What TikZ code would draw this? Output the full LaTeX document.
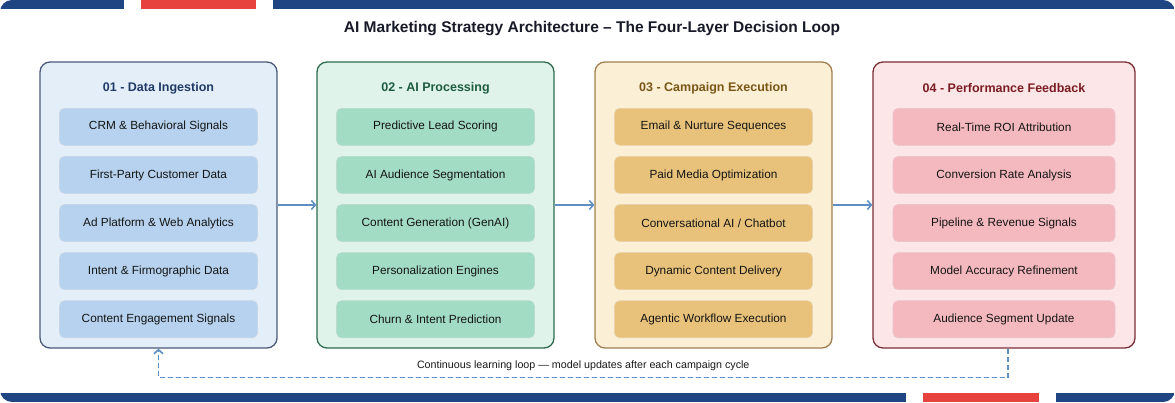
\documentclass[tikz,border=0pt]{standalone}
\usepackage{fontspec}
\setmainfont{Liberation Sans}
\usetikzlibrary{arrows.meta,positioning,calc}
\definecolor{barblue}{RGB}{31,69,130}
\definecolor{barred}{RGB}{232,66,63}
\definecolor{titleink}{RGB}{24,26,40}
\definecolor{flowblue}{RGB}{92,142,196}
\definecolor{ingestfill}{RGB}{228,238,249}
\definecolor{ingestline}{RGB}{74,90,120}
\definecolor{ingestbox}{RGB}{183,210,238}
\definecolor{ingestink}{RGB}{30,58,102}
\definecolor{procfill}{RGB}{223,243,234}
\definecolor{procline}{RGB}{46,107,80}
\definecolor{procbox}{RGB}{162,220,196}
\definecolor{procink}{RGB}{29,92,64}
\definecolor{execfill}{RGB}{251,239,214}
\definecolor{execline}{RGB}{160,128,80}
\definecolor{execbox}{RGB}{232,194,122}
\definecolor{execink}{RGB}{122,86,21}
\definecolor{feedfill}{RGB}{252,230,232}
\definecolor{feedline}{RGB}{122,46,53}
\definecolor{feedbox}{RGB}{244,185,191}
\definecolor{feedink}{RGB}{122,28,34}

\begin{document}
\begin{tikzpicture}[x=1pt,y=1pt,node distance=10.5pt, every node/.style={font=\fontsize{11.8}{14}\selectfont},
  panel/.style={draw,rounded corners=10pt,line width=1.3pt,minimum height=286pt,inner sep=0pt},
  item/.style={draw,rounded corners=5pt,line width=0.6pt,minimum height=37pt,text=black!92},
  head/.style={font=\fontsize{12.5}{15}\selectfont\bfseries},
  flow/.style={-{Straight Barb[length=4pt,width=9pt]},line width=1.5pt,flowblue},
  loopline/.style={-{Straight Barb[length=4pt,width=9pt]},line width=1.6pt,flowblue,dash pattern=on 5pt off 3pt}]
  \useasboundingbox (0,0) rectangle (1175,402);
  \fill[white] (0,0) rectangle (1175,402);
  % top and bottom bands
  \begin{scope}
    \clip[rounded corners=12pt] (0,0) rectangle (1175,402);
    \fill[barblue] (0,392.5) rectangle (124,402);
    \fill[barred] (141,392.5) rectangle (256,402);
    \fill[barblue] (273,392.5) rectangle (1175,402);
    \fill[barblue] (0,0) rectangle (906,9);
    \fill[barred] (923,0) rectangle (1039,9);
    \fill[barblue] (1056,0) rectangle (1175,9);
  \end{scope}
  \node[font=\fontsize{15.5}{18}\selectfont\bfseries,text=titleink] (title) at (592,373) {AI Marketing Strategy Architecture -- The Four-Layer Decision Loop};

  % layer 1
  \node[panel,fill=ingestfill,draw=ingestline,minimum width=237pt] (p1) at (158.5,197) {};
  \node[head,text=ingestink] (h1) at ($(p1.north)+(0,-26.5)$) {01 - Data Ingestion};
  \node[item,fill=ingestbox,draw=ingestbox!80!ingestline!60,minimum width=198pt] (a1) at ($(p1.north)+(0,-65.5)$) {CRM \& Behavioral Signals};
  \node[item,fill=ingestbox,draw=ingestbox!80!ingestline!60,minimum width=198pt,below=of a1] (a2) {First-Party Customer Data};
  \node[item,fill=ingestbox,draw=ingestbox!80!ingestline!60,minimum width=198pt,below=of a2] (a3) {Ad Platform \& Web Analytics};
  \node[item,fill=ingestbox,draw=ingestbox!80!ingestline!60,minimum width=198pt,below=of a3] (a4) {Intent \& Firmographic Data};
  \node[item,fill=ingestbox,draw=ingestbox!80!ingestline!60,minimum width=198pt,below=of a4] (a5) {Content Engagement Signals};

  % layer 2
  \node[panel,fill=procfill,draw=procline,minimum width=237pt] (p2) at (435.5,197) {};
  \node[head,text=procink] (h2) at ($(p2.north)+(0,-26.5)$) {02 - AI Processing};
  \node[item,fill=procbox,draw=procbox!80!procline!60,minimum width=198pt] (b1) at ($(p2.north)+(0,-65.5)$) {Predictive Lead Scoring};
  \node[item,fill=procbox,draw=procbox!80!procline!60,minimum width=198pt,below=of b1] (b2) {AI Audience Segmentation};
  \node[item,fill=procbox,draw=procbox!80!procline!60,minimum width=198pt,below=of b2] (b3) {Content Generation (GenAI)};
  \node[item,fill=procbox,draw=procbox!80!procline!60,minimum width=198pt,below=of b3] (b4) {Personalization Engines};
  \node[item,fill=procbox,draw=procbox!80!procline!60,minimum width=198pt,below=of b4] (b5) {Churn \& Intent Prediction};

  % layer 3
  \node[panel,fill=execfill,draw=execline,minimum width=237pt] (p3) at (713.5,197) {};
  \node[head,text=execink] (h3) at ($(p3.north)+(0,-26.5)$) {03 - Campaign Execution};
  \node[item,fill=execbox,draw=execbox!80!execline!60,minimum width=198pt] (c1) at ($(p3.north)+(0,-65.5)$) {Email \& Nurture Sequences};
  \node[item,fill=execbox,draw=execbox!80!execline!60,minimum width=198pt,below=of c1] (c2) {Paid Media Optimization};
  \node[item,fill=execbox,draw=execbox!80!execline!60,minimum width=198pt,below=of c2] (c3) {Conversational AI / Chatbot};
  \node[item,fill=execbox,draw=execbox!80!execline!60,minimum width=198pt,below=of c3] (c4) {Dynamic Content Delivery};
  \node[item,fill=execbox,draw=execbox!80!execline!60,minimum width=198pt,below=of c4] (c5) {Agentic Workflow Execution};

  % layer 4
  \node[panel,fill=feedfill,draw=feedline,minimum width=262pt] (p4) at (1004,197) {};
  \node[head,text=feedink] (h4) at ($(p4.north)+(0,-26.5)$) {04 - Performance Feedback};
  \node[item,fill=feedbox,draw=feedbox!80!feedline!60,minimum width=222pt] (d1) at ($(p4.north)+(0,-65.5)$) {Real-Time ROI Attribution};
  \node[item,fill=feedbox,draw=feedbox!80!feedline!60,minimum width=222pt,below=of d1] (d2) {Conversion Rate Analysis};
  \node[item,fill=feedbox,draw=feedbox!80!feedline!60,minimum width=222pt,below=of d2] (d3) {Pipeline \& Revenue Signals};
  \node[item,fill=feedbox,draw=feedbox!80!feedline!60,minimum width=222pt,below=of d3] (d4) {Model Accuracy Refinement};
  \node[item,fill=feedbox,draw=feedbox!80!feedline!60,minimum width=222pt,below=of d4] (d5) {Audience Segment Update};

  % flow between layers
  \draw[flow] (p1.east) -- (p2.west);
  \draw[flow] (p2.east) -- (p3.west);
  \draw[flow] (p3.east) -- (p4.west);
  \draw[loopline] ([xshift=4pt]p4.south) -- ++(0,-29) coordinate (loopR) -| (p1.south)
    node[pos=0.25,above=3pt,text=black!90,font=\fontsize{10.7}{12}\selectfont] (looptext) {Continuous learning loop --- model updates after each campaign cycle};
\end{tikzpicture}
\end{document}
